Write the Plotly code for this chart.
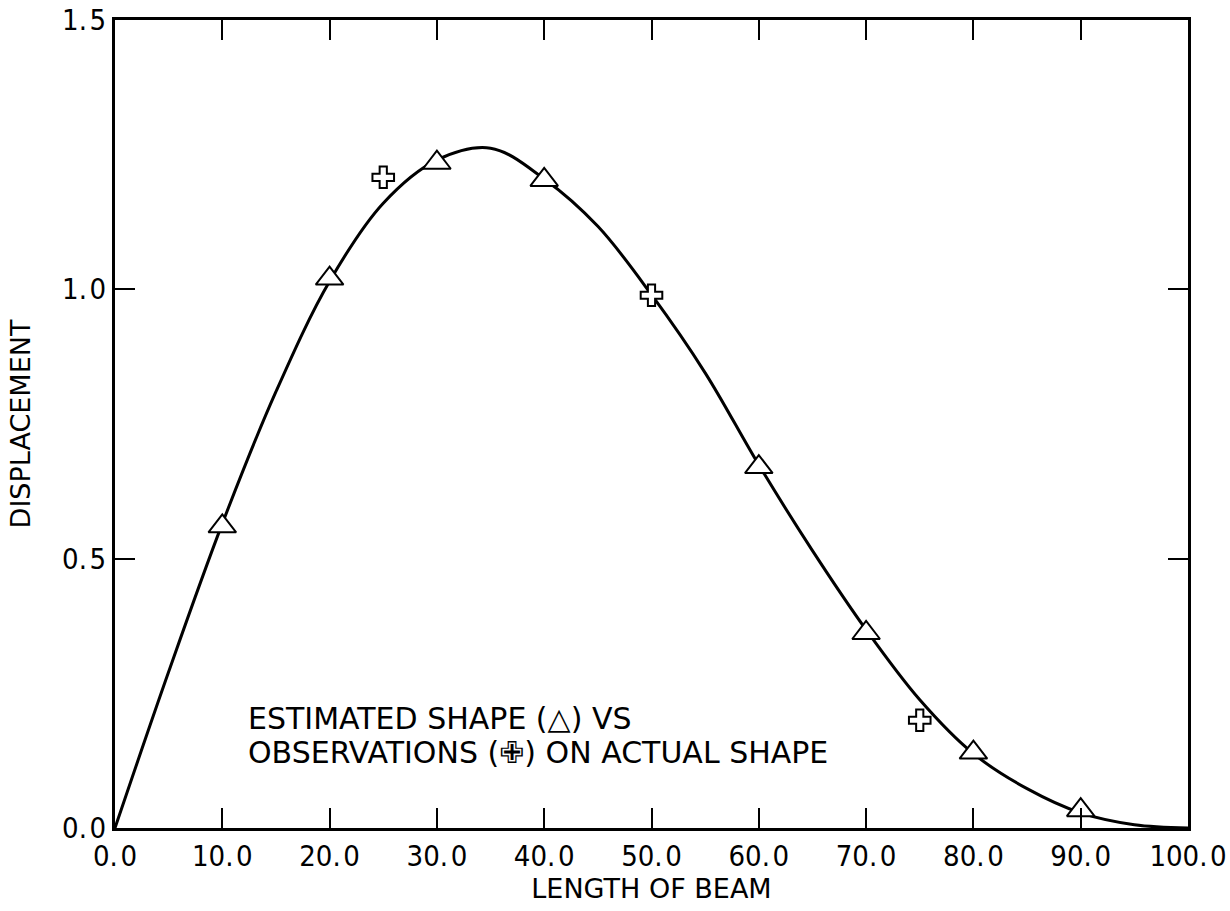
import plotly.graph_objects as go

# Smooth fitted curve
curve_x = [0, 5, 10, 15, 20, 25, 30, 35, 40, 45, 50, 55, 60, 65, 70, 75, 80, 85, 90, 95, 100]
curve_y = [0.0, 0.29, 0.565, 0.81, 1.015, 1.16, 1.24, 1.262, 1.205, 1.117, 0.99, 0.845,
           0.674, 0.515, 0.368, 0.238, 0.138, 0.073, 0.028, 0.006, 0.0]

# Estimated shape (triangles)
est_x = [10, 20, 30, 40, 60, 70, 80, 90]
est_y = [0.56, 1.02, 1.235, 1.203, 0.670, 0.362, 0.14, 0.033]

# Observations on actual shape (crosses)
obs_x = [25, 50, 75]
obs_y = [1.208, 0.989, 0.200]

x_ticks = [0, 10, 20, 30, 40, 50, 60, 70, 80, 90, 100]
x_ticktext = ["0.\u200a0", "10.\u200a0", "20.\u200a0", "30.\u200a0", "40.\u200a0", "50.\u200a0",
              "60.\u200a0", "70.\u200a0", "80.\u200a0", "90.\u200a0", "100.\u200a0"]
y_ticks = [0.0, 0.5, 1.0, 1.5]
y_ticktext = ["0.\u200a0", "0.\u200a5", "1.\u200a0", "1.\u200a5"]

TICKFONT = "DejaVu Sans Condensed, DejaVu Sans, sans-serif"
TEXTFONT = "DejaVu Sans, sans-serif"

fig = go.Figure()
fig.add_trace(go.Scatter(x=curve_x, y=curve_y, mode="lines",
                         line=dict(color="black", width=3, shape="spline", smoothing=1.0),
                         showlegend=False, hoverinfo="skip"))
fig.add_trace(go.Scatter(x=est_x, y=est_y, mode="markers",
                         marker=dict(symbol="triangle-up", size=24, color="white",
                                     line=dict(color="black", width=2)),
                         showlegend=False))
fig.add_trace(go.Scatter(x=obs_x, y=obs_y, mode="markers",
                         marker=dict(symbol="cross", size=18, color="white",
                                     line=dict(color="black", width=2)),
                         showlegend=False))

fig.add_annotation(x=0.122, y=0.136, xref="paper", yref="paper", xanchor="left", yanchor="middle",
                   text="ESTIMATED SHAPE (\u25B3) VS", showarrow=False, align="left",
                   font=dict(family=TEXTFONT, size=30, color="black"))
fig.add_annotation(x=0.122, y=0.094, xref="paper", yref="paper", xanchor="left", yanchor="middle",
                   text="OBSERVATIONS (\u2719\ufe0e) ON ACTUAL SHAPE", showarrow=False, align="left",
                   font=dict(family=TEXTFONT, size=30, color="black"))

fig.update_xaxes(range=[0, 100], tickvals=x_ticks, ticktext=x_ticktext,
                 ticks="inside", ticklen=20, tickwidth=2, tickcolor="black",
                 showline=True, linewidth=3, linecolor="black", mirror="ticks",
                 showgrid=False, zeroline=False, ticklabeloverflow="allow", automargin=False,
                 tickfont=dict(family=TICKFONT, size=29, color="black"),
                 title=dict(text="LENGTH OF BEAM", standoff=2,
                            font=dict(family=TEXTFONT, size=27, color="black")))
fig.update_yaxes(range=[0, 1.5], tickvals=y_ticks, ticktext=y_ticktext,
                 ticks="inside", ticklen=20, tickwidth=2, tickcolor="black",
                 showline=True, linewidth=3, linecolor="black", mirror="ticks",
                 showgrid=False, zeroline=False, ticklabeloverflow="allow", automargin=False,
                 tickfont=dict(family=TICKFONT, size=29, color="black"),
                 title=dict(text="DISPLACEMENT", standoff=24,
                            font=dict(family=TEXTFONT, size=27, color="black")))

fig.update_layout(width=1230, height=911,
                  margin=dict(l=115, r=42, t=20, b=83),
                  plot_bgcolor="white", paper_bgcolor="white",
                  showlegend=False)

fig.write_html("out.html")
